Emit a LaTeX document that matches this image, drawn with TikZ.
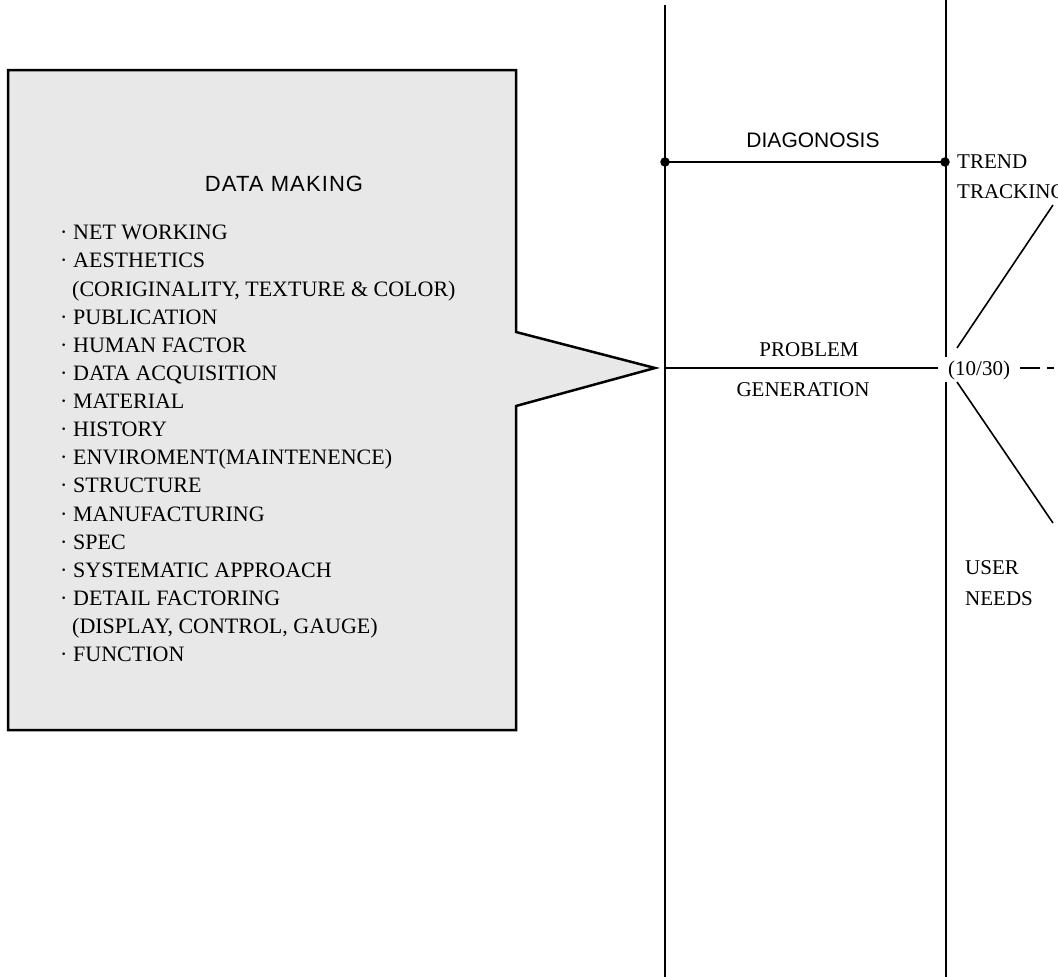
\documentclass[tikz,border=0pt]{standalone}
\usepackage{fontspec}
\setmainfont{Liberation Serif}
\newfontfamily\sansfnt{Liberation Sans}
\newcommand{\itm}[1]{\makebox[13pt][l]{·}#1}
\newcommand{\cnt}[1]{\hspace*{12pt}#1}
\begin{document}
\begin{tikzpicture}[x=1pt,y=-1pt,
    serif/.style={font=\fontsize{21}{28.13}\selectfont, inner sep=0pt},
    sans/.style={font=\sansfnt\fontsize{21}{26}\selectfont, inner sep=0pt},
    rule/.style={line width=1.6pt},
    dot/.style={circle, fill, inner sep=0pt, minimum size=9.5pt}]
    \useasboundingbox (0,0) rectangle (1058,977);
    \clip (0,0) rectangle (1058,977);

    % 吹き出し(灰色)
    \draw[fill=black!9, line width=2.5pt, line join=miter] (8,70) -- (516,70) -- (516,332) -- (655,368) -- (516,406) -- (516,730) -- (8,730) -- cycle;
    \node[sans, font=\sansfnt\fontsize{22}{26}\selectfont\addfontfeature{LetterSpace=5}, anchor=base] (title) at (284,191) {DATA MAKING};

    % 項目
    \node[serif, font=\fontsize{22}{28.13}\selectfont, anchor=north west, align=left] (items) at (60,225) {\itm{NET WORKING}\\
        \itm{AESTHETICS}\\
        \cnt{(CORIGINALITY, TEXTURE \& COLOR)}\\
        \itm{PUBLICATION}\\
        \itm{HUMAN FACTOR}\\
        \itm{DATA ACQUISITION}\\
        \itm{MATERIAL}\\
        \itm{HISTORY}\\
        \itm{ENVIROMENT(MAINTENENCE)}\\
        \itm{STRUCTURE}\\
        \itm{MANUFACTURING}\\
        \itm{SPEC}\\
        \itm{SYSTEMATIC APPROACH}\\
        \itm{DETAIL FACTORING}\\
        \cnt{(DISPLAY, CONTROL, GAUGE)}\\
        \itm{FUNCTION}};

    % 縦線
    \coordinate (ltop) at (665,5);
    \coordinate (lbot) at (665,977);
    \coordinate (rtop) at (946,0);
    \coordinate (rbot) at (946,977);
    \draw[rule] (ltop) -- (lbot);
    \draw[rule] (rtop) -- (rbot);

    % DIAGONOSIS
    \node[dot] (d1) at (665,162) {};
    \node[dot] (d2) at (945,162) {};
    \draw[rule] (d1.center) -- (d2.center);
    \node[sans, anchor=base] (diag) at (813,147) {DIAGONOSIS};

    % TREND TRACKING
    \node[serif, anchor=base west] (trend) at (957,168) {TREND};
    \node[serif, anchor=base west] (track) at (957,198) {TRACKING};

    % PROBLEM GENERATION
    \node[serif, fill=white, inner xsep=10pt, inner ysep=3pt, anchor=base west] (ratio) at (938,375) {(10/30)};
    \coordinate (pl) at (665,368);
    \draw[rule] (pl) -- (ratio.west |- pl);
    \node[serif, anchor=base] (prob) at (809,356) {PROBLEM};
    \node[serif, anchor=base] (gen) at (803,396) {GENERATION};

    % 扇形の線
    \coordinate (fu0) at (957,348);
    \coordinate (fu) at (1053,205);
    \coordinate (fd0) at (957,382);
    \coordinate (fd) at (1053,523);
    \draw[rule] (fu0) -- (fu);
    \draw[rule] (fd0) -- (fd);
    \coordinate (da) at (1040,368);
    \coordinate (db) at (1047,368);
    \coordinate (dc) at (1054,368);
    \draw[rule] (ratio.east |- da) -- (da);
    \draw[rule] (db) -- (dc);

    % USER NEEDS
    \node[serif, anchor=base west] (user) at (965,574) {USER};
    \node[serif, anchor=base west] (needs) at (965,605) {NEEDS};
\end{tikzpicture}
\end{document}
